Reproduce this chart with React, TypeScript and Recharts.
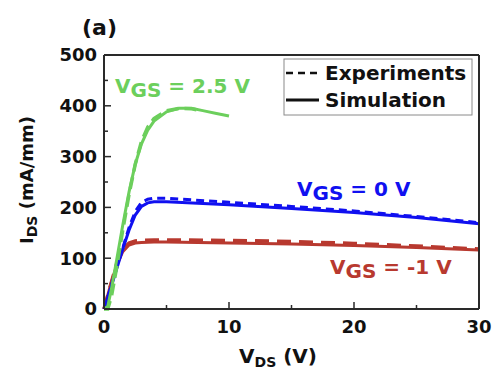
import { Line, LineChart, XAxis, YAxis } from "recharts";

// I–V output curves (V in volts, I in mA/mm).
const greenSimV = [0, 0.3, 0.6, 1, 1.5, 2, 2.5, 3, 3.5, 4, 5, 6, 7, 8, 9, 10];
const greenSimI = [0, 5, 40, 95, 165, 230, 285, 325, 352, 370, 388, 395, 395, 390, 385, 380];
const greenExpV = [0, 0.3, 0.6, 1, 1.5, 2, 2.5, 3, 3.5, 4, 5, 6, 7, 7.5];
const greenExpI = [0, 0, 25, 80, 155, 225, 285, 330, 358, 375, 390, 395, 394, 392];

const blueV = [0, 0.5, 1, 1.5, 2, 2.5, 3, 3.5, 4, 5, 10, 15, 20, 25, 30];
const blueSimI = [0, 38, 78, 118, 155, 185, 202, 209, 211, 211, 205, 198, 190, 180, 168];
const blueExpI = [0, 40, 80, 120, 160, 192, 210, 216, 218, 218, 210, 202, 193, 182, 170];

const redV = [0, 0.5, 1, 1.5, 2, 2.5, 3, 4, 5, 10, 15, 20, 25, 30];
const redSimI = [0, 45, 85, 113, 126, 130, 131, 132, 132, 130, 128, 125, 121, 116];
const redExpI = [0, 45, 88, 118, 130, 134, 135, 136, 136, 135, 133, 129, 124, 118];

const xTicks = [0, 5, 10, 15, 20, 25, 30];
const yTicks = [0, 50, 100, 150, 200, 250, 300, 350, 400, 450, 500];

const GREEN = "#6ccf5c";
const BLUE = "#1010f0";
const RED = "#b8392f";
const AXIS = "#2a2a2a";
const FONT = "'DejaVu Sans', sans-serif";

type Pt = { v: number; i: number };
const zip = (v: number[], i: number[]): Pt[] => v.map((x, k) => ({ v: x, i: i[k] }));

type TickProps = { x: number; y: number; payload: { value: number } };

function BottomTick({ x, y, payload }: TickProps) {
  const major = payload.value % 10 === 0;
  return (
    <g>
      <line x1={x} x2={x} y1={y} y2={y - (major ? 7 : 4)} stroke={AXIS} strokeWidth={1.5} />
      {major && (
        <text x={x} y={y + 24} textAnchor="middle" fontFamily={FONT} fontWeight="bold" fontSize={18} fill="#111">
          {payload.value}
        </text>
      )}
    </g>
  );
}

function TopTick({ x, y, payload }: TickProps) {
  const major = payload.value % 10 === 0;
  return <line x1={x} x2={x} y1={y} y2={y + (major ? 7 : 4)} stroke={AXIS} strokeWidth={1.5} />;
}

function LeftTick({ x, y, payload }: TickProps) {
  const major = payload.value % 100 === 0;
  return (
    <g>
      <line x1={x} x2={x + (major ? 7 : 4)} y1={y} y2={y} stroke={AXIS} strokeWidth={1.5} />
      {major && (
        <text x={x - 7} y={y} dy="0.36em" textAnchor="end" fontFamily={FONT} fontWeight="bold" fontSize={18} fill="#111">
          {payload.value}
        </text>
      )}
    </g>
  );
}

function RightTick({ x, y, payload }: TickProps) {
  const major = payload.value % 100 === 0;
  return <line x1={x} x2={x - (major ? 7 : 4)} y1={y} y2={y} stroke={AXIS} strokeWidth={1.5} />;
}

function VgsLabel({ x, y, value, color }: { x: number; y: number; value: string; color: string }) {
  return (
    <text x={x} y={y} fontFamily={FONT} fontWeight="bold" fontSize={20} fill={color}>
      V
      <tspan dy={4}>GS</tspan>
      <tspan dy={-4}>{` = ${value} V`}</tspan>
    </text>
  );
}

export default function App() {
  return (
    <div style={{ position: "absolute", left: 0, top: 0, width: 493, height: 373, background: "#fff" }}>
      <LineChart width={493} height={373} margin={{ top: 54, right: 13, bottom: 34, left: 0 }}>
        <XAxis
          xAxisId="b"
          dataKey="v"
          type="number"
          domain={[0, 30]}
          ticks={xTicks}
          interval={0}
          height={30}
          tickSize={0}
          tickMargin={0}
          tickLine={false}
          axisLine={{ stroke: AXIS, strokeWidth: 2 }}
          tick={BottomTick}
        />
        <XAxis
          xAxisId="t"
          orientation="top"
          dataKey="v"
          type="number"
          domain={[0, 30]}
          ticks={xTicks}
          interval={0}
          height={1}
          tickSize={0}
          tickMargin={0}
          tickLine={false}
          axisLine={{ stroke: AXIS, strokeWidth: 2 }}
          tick={TopTick}
        />
        <YAxis
          yAxisId="l"
          type="number"
          domain={[0, 500]}
          ticks={yTicks}
          interval={0}
          width={104}
          tickSize={0}
          tickMargin={0}
          tickLine={false}
          axisLine={{ stroke: AXIS, strokeWidth: 2 }}
          tick={LeftTick}
        />
        <YAxis
          yAxisId="r"
          orientation="right"
          type="number"
          domain={[0, 500]}
          ticks={yTicks}
          interval={0}
          width={1}
          tickSize={0}
          tickMargin={0}
          tickLine={false}
          axisLine={{ stroke: AXIS, strokeWidth: 2 }}
          tick={RightTick}
        />
        <Line xAxisId="b" yAxisId="l" data={zip(redV, redExpI)} dataKey="i" stroke={RED} strokeWidth={3.5} strokeDasharray="14 8" dot={false} isAnimationActive={false} />
        <Line xAxisId="b" yAxisId="l" data={zip(redV, redSimI)} dataKey="i" stroke={RED} strokeWidth={3} dot={false} isAnimationActive={false} />
        <Line xAxisId="b" yAxisId="l" data={zip(blueV, blueExpI)} dataKey="i" stroke={BLUE} strokeWidth={3} strokeDasharray="8 5" dot={false} isAnimationActive={false} />
        <Line xAxisId="b" yAxisId="l" data={zip(blueV, blueSimI)} dataKey="i" stroke={BLUE} strokeWidth={3} dot={false} isAnimationActive={false} />
        <Line xAxisId="b" yAxisId="l" data={zip(greenExpV, greenExpI)} dataKey="i" stroke={GREEN} strokeWidth={3.5} strokeDasharray="12 6" dot={false} isAnimationActive={false} />
        <Line xAxisId="b" yAxisId="l" data={zip(greenSimV, greenSimI)} dataKey="i" stroke={GREEN} strokeWidth={3} dot={false} isAnimationActive={false} />
      </LineChart>
      <svg width={493} height={373} style={{ position: "absolute", left: 0, top: 0, pointerEvents: "none" }}>
        <text x={82} y={35} fontFamily={FONT} fontWeight="bold" fontSize={22} fill="#111">(a)</text>
        <g transform="translate(33,180) rotate(-90)">
          <text textAnchor="middle" fontFamily={FONT} fontWeight="bold" fontSize={18} fill="#111">
            I<tspan fontSize={14} dy={4}>DS</tspan>
            <tspan dy={-4}> (mA/mm)</tspan>
          </text>
        </g>
        <text x={278} y={363} textAnchor="middle" fontFamily={FONT} fontWeight="bold" fontSize={20} fill="#111">
          V<tspan fontSize={14} dy={4}>DS</tspan>
          <tspan dy={-4}> (V)</tspan>
        </text>
        <VgsLabel x={115} y={93} value="2.5" color={GREEN} />
        <VgsLabel x={297} y={196} value="0" color={BLUE} />
        <VgsLabel x={330} y={274} value="-1" color={RED} />
        <rect x={284} y={59} width={188} height={56} fill="#fff" stroke="#8a8a8a" strokeWidth={1} />
        <line x1={286} x2={322} y1={73} y2={73} stroke="#111" strokeWidth={2.5} strokeDasharray="7 5" />
        <text x={325} y={80} fontFamily={FONT} fontWeight="bold" fontSize={20} fill="#111">Experiments</text>
        <line x1={286} x2={319} y1={100} y2={100} stroke="#111" strokeWidth={3} />
        <text x={325} y={107} fontFamily={FONT} fontWeight="bold" fontSize={20} fill="#111">Simulation</text>
      </svg>
    </div>
  );
}
